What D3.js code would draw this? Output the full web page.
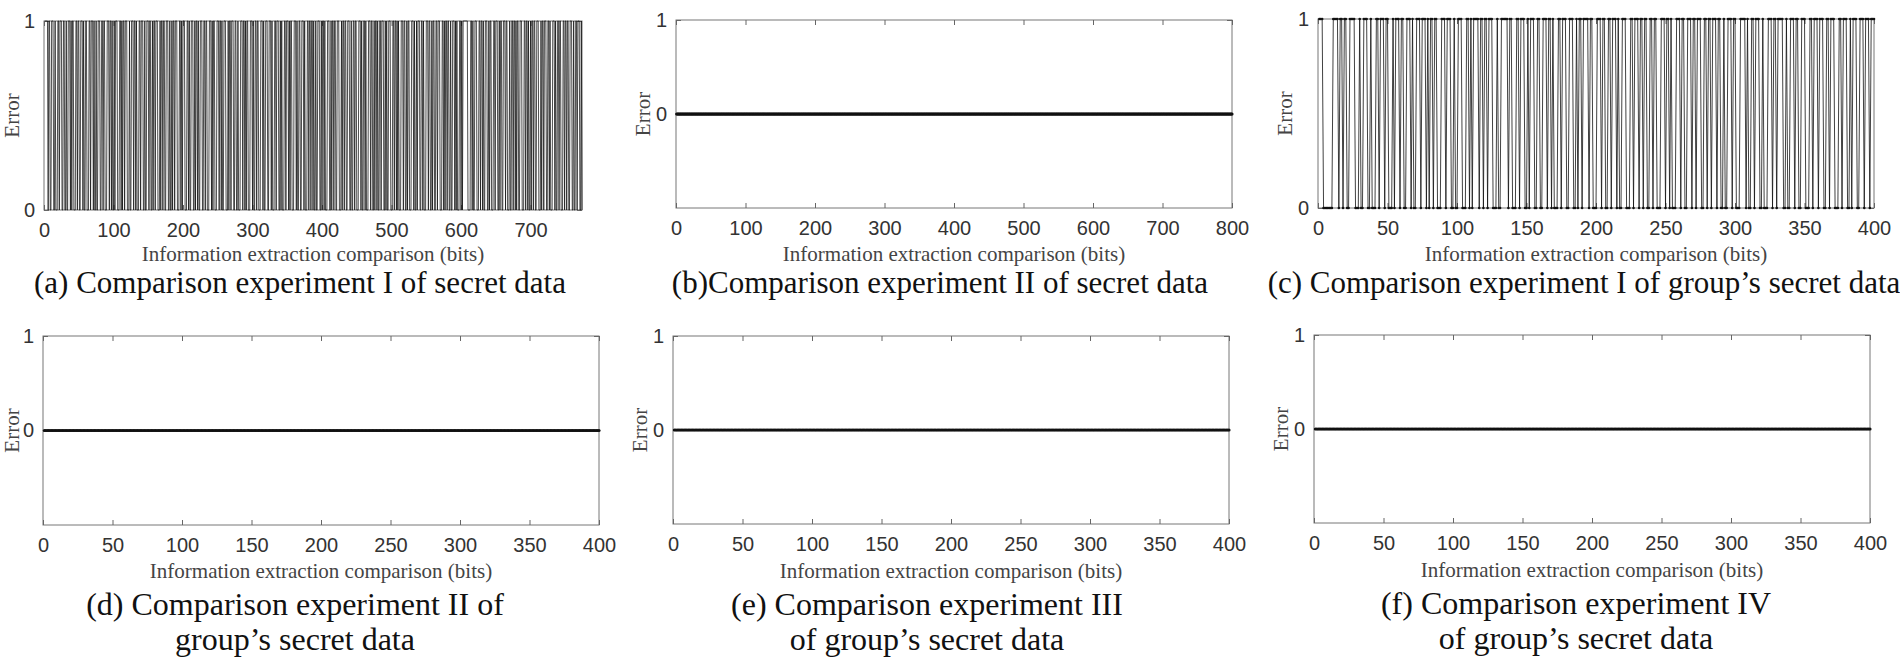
<!DOCTYPE html>
<html lang="en">
<head>
<meta charset="UTF-8">
<title>Information extraction comparison</title>
<script src="https://d3js.org/d3.v7.min.js"></script>
<style>
  body { margin: 0; background: #fff; }
  svg { display: block; font-family: "Liberation Serif", "Times New Roman", serif; }
  .tick line { stroke: #666; }
  .tick text { font-size: 20px; fill: #333; }
</style>
</head>
<body>
<div id="my_dataviz"></div>
<script>
// error per compared bit (1 = wrong bit, 0 = right bit)
var bitsA =
  "1111101100 1110010001 1011100110 0100111010 1100011011 0011101001 1000110111 0100100111" +
  "0011011000 1110110100 1011100011 0101101110 0010011101 1010001101 1100100111 0110010110" +
  "1110001011 0110011100 1001011011 1000110101 1100011010 0111001011 0100111001 1011000111" +
  "0101100011 1011010011 1000101101 1100110010 0011101101 0110001110 1001101100 0111010011" +
  "1001110100 0110111001 0100011011 1010110001 1101001100 1110100011 0110110100 1001110010" +
  "1101000111 0010110110 0111000101 1011001110 0100110110 0011101001 1010001110 1100101101" +
  "0011011100 1010011100 0110110101 0001110110 0101100011 1010010111 0011010001 1101100101" +
  "1001101110 0011010110 1100100111 0101000110 1011111110 0001101001 1100011011 0100111001" +
  "0110001101 1100101100 1110110001 0011011010 1100111000 1101101001 0110110011 1000101101" +
  "1100110100 0111010011 0110001101 1011001110 0100110111 0010";

var bitsC =
  "1110000000 1111011011 0011110001 0011100100" +
  "0110111011 0001011101 1001110100 1110111010" +
  "1101100011 1011100100 1110001101 0111101101" +
  "1011100010 0111110110 0011011100 1011100110" +
  "0111011010 0011011100 1110010110 1111011000" +
  "1110110011 0111010011 1000110111 0110110011" +
  "0110001110 1101000111 0110011101 1011100110" +
  "1101110110 0100111011 0001111010 0110111001" +
  "0001110110 1111001001 1101100111 0001101110" +
  "1110011011 1000110111 0010111001 1101110111";

function toBits(s) {
  return s.replace(/\s/g, "").split("").map(Number);
}

var errorsA = toBits(bitsA);
var errorsC = toBits(bitsC);
// the other experiments show no error at any bit
var errorsB = Array(800).fill(0);
var errorsD = Array(400).fill(0);
var errorsE = Array(400).fill(0);
var errorsF = Array(400).fill(0);

var xTicksA = [0, 100, 200, 300, 400, 500, 600, 700];
var xTicksB = [0, 100, 200, 300, 400, 500, 600, 700, 800];
var xTicks400 = [0, 50, 100, 150, 200, 250, 300, 350, 400];
var yTicks = [0, 1];

var xLabel = "Information extraction comparison (bits)";
var yLabel = "Error";

var captionA = ["(a) Comparison experiment I of secret data"];
var captionB = ["(b)Comparison experiment II of secret data"];
var captionC = ["(c) Comparison experiment I of group\u2019s secret data"];
var captionD = ["(d) Comparison experiment II of", "group\u2019s secret data"];
var captionE = ["(e) Comparison experiment III", "of group\u2019s secret data"];
var captionF = ["(f) Comparison experiment IV", "of group\u2019s secret data"];

var panels = [
  {data: errorsA, xMax: 774, xTicks: xTicksA, yMin: 0, dots: false, caption: captionA,
   left: 44, right: 582, top: 21, bottom: 210, labelY: 261, capX: 300, capY: [293], capSize: 31},
  {data: errorsB, xMax: 800, xTicks: xTicksB, yMin: -1, dots: true, caption: captionB,
   left: 676, right: 1232, top: 20, bottom: 208, labelY: 261, capX: 940, capY: [293], capSize: 31},
  {data: errorsC, xMax: 400, xTicks: xTicks400, yMin: 0, dots: true, caption: captionC,
   left: 1318, right: 1874, top: 19, bottom: 208, labelY: 261, capX: 1584, capY: [293], capSize: 31},
  {data: errorsD, xMax: 400, xTicks: xTicks400, yMin: -1, dots: true, caption: captionD,
   left: 43, right: 599, top: 336, bottom: 525, labelY: 578, capX: 295, capY: [615, 650], capSize: 32},
  {data: errorsE, xMax: 400, xTicks: xTicks400, yMin: -1, dots: true, caption: captionE,
   left: 673, right: 1229, top: 336, bottom: 524, labelY: 578, capX: 927, capY: [615, 650], capSize: 32},
  {data: errorsF, xMax: 400, xTicks: xTicks400, yMin: -1, dots: true, caption: captionF,
   left: 1314, right: 1870, top: 335, bottom: 523, labelY: 577, capX: 1576, capY: [614, 649], capSize: 32}
];

var svg = d3.select("#my_dataviz")
  .append("svg")
  .attr("width", 1900)
  .attr("height", 659);

function drawPanel(p) {
  var g = svg.append("g");
  var x = d3.scaleLinear().domain([0, p.xMax]).range([p.left, p.right]);
  var y = d3.scaleLinear().domain([p.yMin, 1]).range([p.bottom, p.top]);

  g.append("rect")
    .attr("x", p.left)
    .attr("y", p.top)
    .attr("width", p.right - p.left)
    .attr("height", p.bottom - p.top)
    .attr("fill", "none")
    .attr("stroke", "#777")
    .attr("stroke-width", 1);

  // inward ticks on all four sides, labels only bottom and left
  g.append("g")
    .attr("transform", "translate(0," + p.bottom + ")")
    .call(d3.axisBottom(x).tickValues(p.xTicks).tickSizeInner(-5).tickSizeOuter(0).tickPadding(13));
  g.append("g")
    .attr("transform", "translate(0," + p.top + ")")
    .call(d3.axisTop(x).tickValues(p.xTicks).tickSizeInner(-5).tickSizeOuter(0).tickFormat(""));
  g.append("g")
    .attr("transform", "translate(" + p.left + ",0)")
    .call(d3.axisLeft(y).tickValues(yTicks).tickFormat(d3.format("d"))
      .tickSizeInner(-5).tickSizeOuter(0).tickPadding(9));
  g.append("g")
    .attr("transform", "translate(" + p.right + ",0)")
    .call(d3.axisRight(y).tickValues(yTicks).tickSizeInner(-5).tickSizeOuter(0).tickFormat(""));
  g.selectAll(".domain").remove();
  g.selectAll(".tick text").attr("font-family", null).attr("font-size", null);

  var line = d3.line()
    .x(function(d, i) { return x(i + 1); })
    .y(function(d) { return y(d); });

  g.append("path")
    .datum(p.data)
    .attr("d", line)
    .attr("fill", "none")
    .attr("stroke", "#111")
    .attr("stroke-width", p.dots ? 0.8 : 0.75);

  if (p.dots) {
    g.selectAll("circle")
      .data(p.data)
      .enter()
      .append("circle")
      .attr("cx", function(d, i) { return x(i + 1); })
      .attr("cy", function(d) { return y(d); })
      .attr("r", p.yMin < 0 ? 1.6 : 1.3)
      .attr("fill", "#111");
  }

  g.append("text")
    .attr("x", (p.left + p.right) / 2)
    .attr("y", p.labelY)
    .attr("text-anchor", "middle")
    .attr("font-size", 21)
    .attr("fill", "#444")
    .text(xLabel);

  g.append("text")
    .attr("transform", "translate(" + Math.max(p.left - 33, 12) + "," + ((p.top + p.bottom) / 2) + ") rotate(-90)")
    .attr("dy", "0.35em")
    .attr("text-anchor", "middle")
    .attr("font-size", 21)
    .attr("fill", "#444")
    .text(yLabel);

  // caption, wrapped onto one or two lines
  var cap = g.append("text")
    .attr("text-anchor", "middle")
    .attr("font-size", p.capSize)
    .attr("fill", "#111");
  p.caption.forEach(function(c, k) {
    cap.append("tspan")
      .attr("x", p.capX)
      .attr("y", p.capY[k])
      .text(c);
  });
}

panels.forEach(drawPanel);
</script>
</body>
</html>
